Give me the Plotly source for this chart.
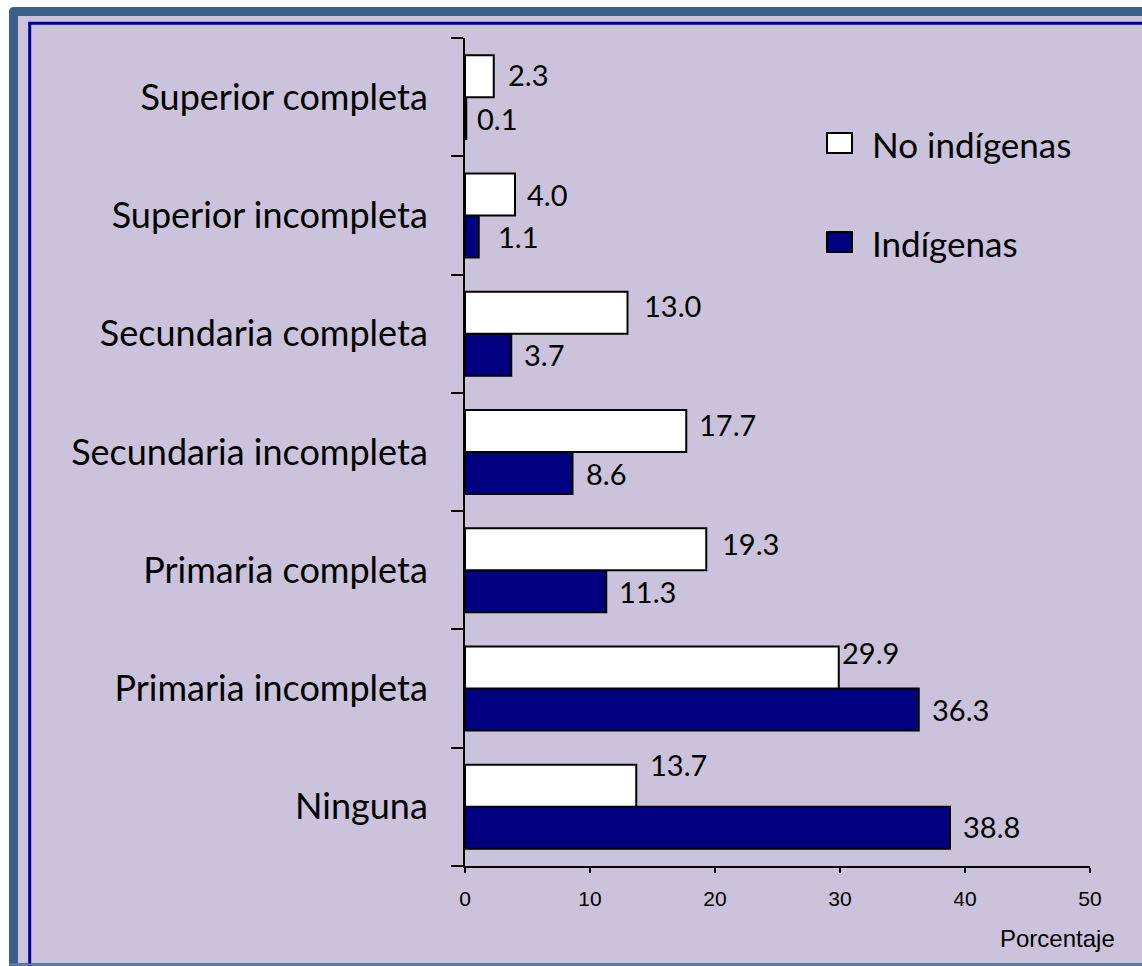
import plotly.graph_objects as go

# Education level distribution (%), by population group
categories = [
    "Ninguna",
    "Primaria incompleta",
    "Primaria completa",
    "Secundaria incompleta",
    "Secundaria completa",
    "Superior incompleta",
    "Superior completa",
]
no_indigenas = [13.7, 29.9, 19.3, 17.7, 13.0, 4.0, 2.3]
indigenas = [38.8, 36.3, 11.3, 8.6, 3.7, 1.1, 0.1]

series_names = ["No indígenas", "Indígenas"]
x_ticks = [0, 10, 20, 30, 40, 50]
x_title = "Porcentaje"

# Page / plot geometry (pixels)
FIG_W, FIG_H = 1142, 966
PL, PR, PT, PB = 465, 1090, 38, 866

LAVENDER = "#CBC2DC"
STEEL = "#3A5F8B"
NAVY_LINE = "#000099"
NAVY_BAR = "#000080"
LABEL_FONT = "Lato"
AXIS_FONT = "Liberation Sans, Arial"


def px(x):
    return (x - PL) / (PR - PL)


def py(y):
    return (PB - y) / (PB - PT)


fig = go.Figure()

fig.add_trace(go.Bar(
    name=series_names[1], y=categories, x=indigenas, orientation="h",
    marker=dict(color=NAVY_BAR, line=dict(color="black", width=2)),
    hoverinfo="x+y",
))
fig.add_trace(go.Bar(
    name=series_names[0], y=categories, x=no_indigenas, orientation="h",
    marker=dict(color="white", line=dict(color="black", width=2)),
    hoverinfo="x+y",
))

# Value labels beside each bar
white_dx = [12, 1, 14, 11, 14, 10, 12]
white_dy = [42, 36, 27, 28, 28, 21, 23]
navy_dx = [11, 11, 11, 11, 11, 17, 9]
navy_dy = [-20, -21, -21, -21, -21, -21, -21]
annotations = []
for i, cat in enumerate(categories):
    annotations.append(dict(
        x=no_indigenas[i], y=cat, xref="x", yref="y", text=f"{no_indigenas[i]:.1f}",
        showarrow=False, xanchor="left", yanchor="middle",
        xshift=white_dx[i], yshift=white_dy[i],
        font=dict(family=LABEL_FONT, size=29, color="black"),
    ))
    annotations.append(dict(
        x=indigenas[i], y=cat, xref="x", yref="y", text=f"{indigenas[i]:.1f}",
        showarrow=False, xanchor="left", yanchor="middle",
        xshift=navy_dx[i], yshift=navy_dy[i],
        font=dict(family=LABEL_FONT, size=29, color="black"),
    ))

# Axis title, bottom right
annotations.append(dict(
    x=px(1117), y=py(938), xref="paper", yref="paper", text=x_title,
    showarrow=False, xanchor="right", yanchor="middle",
    font=dict(family=AXIS_FONT, size=24, color="black"),
))

# Legend entries
legend_items = [(series_names[0], "white", 143), (series_names[1], NAVY_BAR, 242)]
shapes = []
# Outer frame: steel-blue band with rounded top-left corner
r = 5
x0, y0, x1, y1 = 9, 7, 1200, 1000
frame_path = (
    f"M {px(x0)},{py(y0 + r)} Q {px(x0)},{py(y0)} {px(x0 + r)},{py(y0)} "
    f"L {px(x1)},{py(y0)} L {px(x1)},{py(y1)} L {px(x0)},{py(y1)} Z"
)
shapes.append(dict(type="path", path=frame_path, xref="paper", yref="paper",
                   fillcolor=STEEL, line=dict(width=0), layer="below"))
shapes.append(dict(type="rect", xref="paper", yref="paper",
                   x0=px(18), y0=py(16), x1=px(1200), y1=py(963),
                   fillcolor=LAVENDER, line=dict(width=0), layer="below"))
shapes.append(dict(type="rect", xref="paper", yref="paper",
                   x0=px(29.7), y0=py(23.3), x1=px(1200), y1=py(1100),
                   fillcolor="rgba(0,0,0,0)", line=dict(color=NAVY_LINE, width=3),
                   layer="below"))
shapes.append(dict(type="line", xref="paper", yref="paper",
                   x0=px(9), y0=py(964.5), x1=px(1200), y1=py(964.5),
                   line=dict(color="#6681AA", width=2), layer="below"))

for name, color, cy in legend_items:
    shapes.append(dict(type="rect", xref="paper", yref="paper",
                       x0=px(827), y0=py(cy - 10), x1=px(852), y1=py(cy + 10),
                       fillcolor=color, line=dict(color="black", width=2)))
    annotations.append(dict(
        x=px(870), y=py(cy + 1), xref="paper", yref="paper", text=name,
        showarrow=False, xanchor="left", yanchor="middle",
        font=dict(family=LABEL_FONT, size=35, color="black"),
    ))

fig.update_layout(
    width=FIG_W, height=FIG_H,
    margin=dict(l=PL, r=FIG_W - PR, t=PT, b=FIG_H - PB, pad=0),
    paper_bgcolor="white",
    plot_bgcolor="rgba(0,0,0,0)",
    barmode="group",
    bargap=0.29,
    bargroupgap=0,
    showlegend=False,
    shapes=shapes,
    annotations=annotations,
    xaxis=dict(
        range=[0, 50], tickvals=x_ticks, ticktext=[str(v) for v in x_ticks],
        showline=True, linecolor="black", linewidth=2,
        ticks="outside", ticklen=5, tickwidth=2, tickcolor="black",
        showgrid=False, zeroline=False,
        tickfont=dict(family=AXIS_FONT, size=21, color="black"),
        ticklabelstandoff=8,
    ),
    yaxis=dict(
        type="category", categoryorder="array", categoryarray=categories,
        showline=True, linecolor="black", linewidth=2,
        ticks="outside", ticklen=12, tickwidth=2, tickcolor="black",
        tickson="boundaries", showgrid=False, zeroline=False,
        tickfont=dict(family=LABEL_FONT, size=36, color="black"),
        ticklabelstandoff=28,
    ),
)

fig.write_html("out.html", config={"displayModeBar": False})
